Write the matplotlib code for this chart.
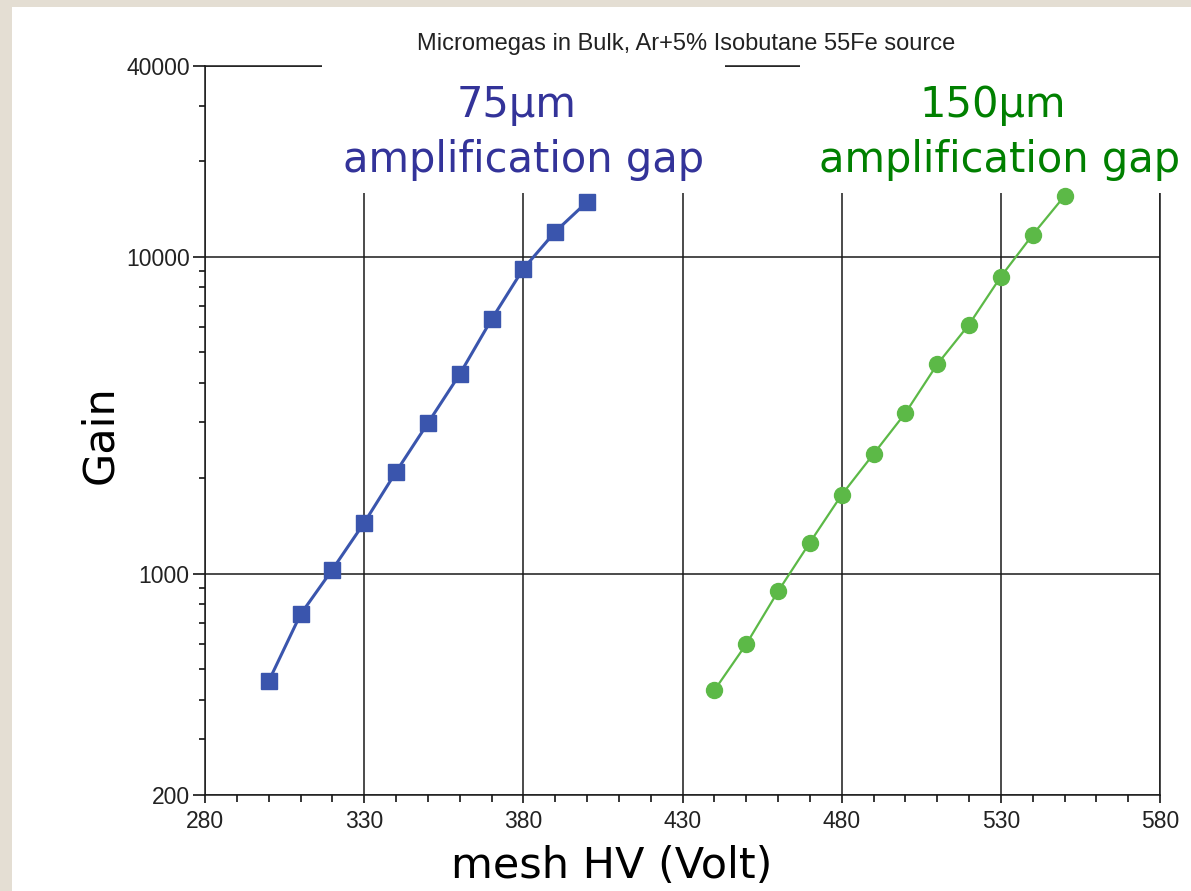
import matplotlib
matplotlib.use('Agg')
import matplotlib.pyplot as plt
import matplotlib.patches as patches
from matplotlib.ticker import FixedLocator, NullFormatter

# mesh voltage (V) and gain for the two amplification gaps
hv_75 = [300, 310, 320, 330, 340, 350, 360, 370, 380, 390, 400]
gain_75 = [457, 743, 1029, 1446, 2093, 2983, 4254, 6339, 9165, 11990, 14890]

hv_150 = [440, 450, 460, 470, 480, 490, 500, 510, 520, 530, 540, 550]
gain_150 = [428, 598, 878, 1252, 1772, 2384, 3209, 4573, 6108, 8650, 11730, 15550]

x_major = [280, 330, 380, 430, 480, 530, 580]
x_minor = [v for v in range(280, 581, 10) if v not in x_major]
y_major = [200, 1000, 10000, 40000]
y_minor = [300, 400, 500, 600, 700, 800, 900,
           2000, 3000, 4000, 5000, 6000, 7000, 8000, 9000,
           20000, 30000]

BLUE = '#3a55ad'
GREEN = '#5cb947'
BLUE_TXT = '#333399'
GREEN_TXT = '#008000'

fig = plt.figure(figsize=(11.91, 8.91), dpi=100, facecolor='#e4ded3')
# white slide area over the textured border
fig.patches.append(patches.Rectangle((12 / 1191, 0), 1, 1 - 7 / 891,
                                     transform=fig.transFigure, fc='white', ec='none', zorder=-5))

ax = fig.add_axes([205 / 1191, 1 - 795 / 891, 955 / 1191, 729 / 891])
ax.set_facecolor('white')
ax.set_yscale('log')
ax.set_xlim(280, 580)
ax.set_ylim(200, 40000)

ax.plot(hv_75, gain_75, color=BLUE, lw=2.2, marker='s', ms=12, zorder=5)
ax.plot(hv_150, gain_150, color=GREEN, lw=1.6, marker='o', ms=11.5, zorder=5)

ax.xaxis.set_major_locator(FixedLocator(x_major))
ax.xaxis.set_minor_locator(FixedLocator(x_minor))
ax.yaxis.set_major_locator(FixedLocator(y_major))
ax.yaxis.set_minor_locator(FixedLocator(y_minor))
ax.yaxis.set_minor_formatter(NullFormatter())
ax.set_yticklabels([str(v) for v in y_major])
ax.set_xticklabels([str(v) for v in x_major])

for lbl in ax.get_xticklabels() + ax.get_yticklabels():
    lbl.set_family('Liberation Sans')
    lbl.set_fontsize(16.5)
    lbl.set_color('#222222')

ax.tick_params(axis='x', which='major', direction='out', length=6, width=1.1, pad=5)
ax.tick_params(axis='x', which='minor', direction='out', length=5, width=1.1)
ax.tick_params(axis='y', which='major', direction='out', length=9, width=1.1, pad=2)
ax.tick_params(axis='y', which='minor', direction='out', length=4.5, width=1.1)

ax.grid(True, which='major', color='#1a1a1a', lw=1.1, zorder=1)
ax.set_axisbelow(True)
for s in ax.spines.values():
    s.set_linewidth(1.1)
    s.set_color('#1a1a1a')

# white boxes behind the gap labels hide the top of the grid
ax.add_patch(patches.Rectangle((117 / 955, 602 / 729), 403 / 955, 0.2, transform=ax.transAxes,
                               fc='white', ec='none', zorder=3, clip_on=False))
ax.add_patch(patches.Rectangle((595 / 955, 602 / 729), 0.45, 0.2, transform=ax.transAxes,
                               fc='white', ec='none', zorder=3, clip_on=False))

ax.text(312 / 955, 678 / 729, '75µm', transform=ax.transAxes, ha='center', va='baseline',
        fontsize=30, color=BLUE_TXT, family='DejaVu Sans', zorder=4)
ax.text(319 / 955, 623 / 729, 'amplification gap', transform=ax.transAxes, ha='center', va='baseline',
        fontsize=30, color=BLUE_TXT, family='DejaVu Sans', zorder=4)
ax.text(788 / 955, 678 / 729, '150µm', transform=ax.transAxes, ha='center', va='baseline',
        fontsize=30, color=GREEN_TXT, family='DejaVu Sans', zorder=4)
ax.text(795 / 955, 623 / 729, 'amplification gap', transform=ax.transAxes, ha='center', va='baseline',
        fontsize=30, color=GREEN_TXT, family='DejaVu Sans', zorder=4)

fig.text(686 / 1191, 1 - 44 / 891, 'Micromegas in Bulk, Ar+5% Isobutane 55Fe source',
         ha='center', va='center', fontsize=17, family='Liberation Sans', color='#222222')
fig.text(612 / 1191, 1 - 866 / 891, 'mesh HV (Volt)', ha='center', va='center',
         fontsize=31, family='DejaVu Sans', color='black')
fig.text(100 / 1191, 1 - 435 / 891, 'Gain', ha='center', va='center', rotation=90,
         fontsize=31, family='DejaVu Sans', color='black')

fig.savefig('out.png', dpi=100, facecolor=fig.get_facecolor())
plt.close(fig)
